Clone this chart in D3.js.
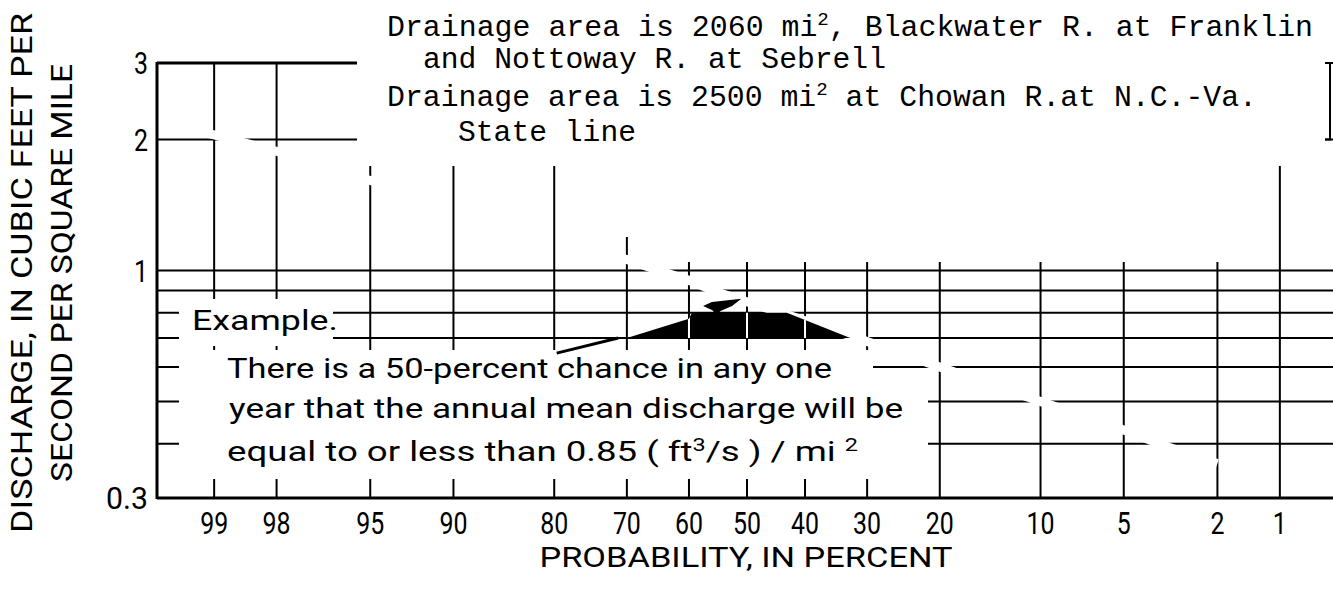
<!DOCTYPE html>
<html>
<head>
<meta charset="utf-8">
<script src="https://cdn.jsdelivr.net/npm/d3@7"></script>
<style>
  body { margin: 0; background: #fff; }
  svg { display: block; }
  .sans { font-family: Roboto, "Noto Sans", "DejaVu Sans", sans-serif; fill: #000; }
  .mono { font-family: "Liberation Mono", "DejaVu Sans Mono", monospace; fill: #000; }
</style>
</head>
<body>
<svg id="chart" width="1333" height="590"></svg>
<script>
// Probability axis (percent chance that annual mean discharge is equal to or less than)
const probTicks = [99, 98, 95, 90, 80, 70, 60, 50, 40, 30, 20, 10, 5, 2, 1];
const probTickLabels = ["99", "98", "95", "90", "80", "70", "60", "50", "40", "30", "20", "10", "5", "2", "1"];

// Discharge grid, cubic feet per second per square mile (log scale)
const dischargeGrid = [3, 2, 1, 0.9, 0.8, 0.7, 0.6, 0.5, 0.4];
const dischargeTicks = [3, 2, 1, 0.3];
const dischargeTickLabels = ["3", "2", "1", "0.3"];

// Frequency curve (erased trace through the grid); null marks an unbroken stretch
const curveProb = [99.2, 99, 98, 95, 93.5, 90, 72, 70, 65, 60, 55, 42.4, 30.2, 20, 10, 5, 3.3, 2];
const curveDischarge = [2.1, 2.05, 1.88, 1.61, 1.53, null, 1.08, 1.06, 1.0, 0.95, 0.89, 0.786, 0.689, 0.60, 0.50, 0.43, 0.393, 0.36];

// Highlighted band of the example near the median
const bandProb = [70, 60, 59.5, 43.1, 32.6];
const bandDischarge = [0.7, 0.775, 0.8, 0.8, 0.7];
const flagProb = [57.6, 56.1, 51.0, 52.6, 54.6, 55.3, 56.0];
const flagDischarge = [0.829, 0.847, 0.861, 0.829, 0.807, 0.79, 0.81];
const leaderProb = [79.7, 71.3];
const leaderDischarge = [0.646, 0.70];

// Inverse of the standard normal CDF (Acklam's rational approximation)
function probit(p) {
  const a = [-3.969683028665376e+01, 2.209460984245205e+02, -2.759285104469687e+02, 1.383577518672690e+02, -3.066479806614716e+01, 2.506628277459239e+00];
  const b = [-5.447609879822406e+01, 1.615858368580409e+02, -1.556989798598866e+02, 6.680131188771972e+01, -1.328068155288572e+01];
  const c = [-7.784894002430293e-03, -3.223964580411365e-01, -2.400758277161838e+00, -2.549732539343734e+00, 4.374664141464968e+00, 2.938163982698783e+00];
  const d = [7.784695709041462e-03, 3.224671290700398e-01, 2.445134137142996e+00, 3.754408661907416e+00];
  const pl = 0.02425, ph = 1 - pl;
  let q, r;
  if (p < pl) {
    q = Math.sqrt(-2 * Math.log(p));
    return (((((c[0]*q+c[1])*q+c[2])*q+c[3])*q+c[4])*q+c[5]) / ((((d[0]*q+d[1])*q+d[2])*q+d[3])*q+1);
  }
  if (p <= ph) {
    q = p - 0.5; r = q * q;
    return (((((a[0]*r+a[1])*r+a[2])*r+a[3])*r+a[4])*r+a[5])*q / (((((b[0]*r+b[1])*r+b[2])*r+b[3])*r+b[4])*r+1);
  }
  q = Math.sqrt(-2 * Math.log(1 - p));
  return -(((((c[0]*q+c[1])*q+c[2])*q+c[3])*q+c[4])*q+c[5]) / ((((d[0]*q+d[1])*q+d[2])*q+d[3])*q+1);
}

const svg = d3.select("#chart");
const W = 1333, H = 590;
svg.append("rect").attr("width", W).attr("height", H).attr("fill", "#fff");

// Normal-probability x scale (high percentages on the left), log y scale
const zScale = d3.scaleLinear().domain([probit(0.995), probit(0.005)]).range([157, 1337]);
const x = p => zScale(probit(p / 100));
const y = d3.scaleLog().domain([0.3, 3]).range([498, 63]);

const xLeft = x(99.5), xRight = x(0.5);
const yTop = y(3), yBottom = y(0.3);

const grid = svg.append("g").attr("stroke", "#000").attr("stroke-width", 2).attr("fill", "none");

// vertical probability lines
grid.selectAll("line.v").data(probTicks).join("line")
  .attr("class", "v")
  .attr("x1", d => x(d)).attr("x2", d => x(d))
  .attr("y1", yTop).attr("y2", yBottom);

// horizontal discharge lines
grid.selectAll("line.h").data(dischargeGrid).join("line")
  .attr("class", "h")
  .attr("x1", xLeft).attr("x2", xRight)
  .attr("y1", d => y(d)).attr("y2", d => y(d));

// white panels where the lettering sits over the grid
const panels = [
  [357, 0, 1325, 166],    // heading block
  [640, 166, 1266, 262],  // below heading, right side
  [600, 166, 640, 237],   // below heading, near 70 percent
  [179, 299, 333, 346],   // "Example." label
  [179, 350, 873, 479],   // explanation paragraph
  [873, 380, 928, 479]    // paragraph tail
];
svg.append("g").selectAll("rect").data(panels).join("rect")
  .attr("x", d => d[0]).attr("y", d => d[1])
  .attr("width", d => d[2] - d[0]).attr("height", d => d[3] - d[1])
  .attr("fill", "#fff");

// erased frequency curve: a white trace that breaks the grid lines
const curve = d3.line()
  .defined(d => d[1] !== null)
  .x(d => x(d[0])).y(d => y(d[1]));
svg.append("path")
  .datum(curveProb.map((p, i) => [p, curveDischarge[i]]))
  .attr("d", curve)
  .attr("fill", "none").attr("stroke", "#fff").attr("stroke-width", 9);

// black band with the grid showing through in white
const bandPts = bandProb.map((p, i) => [x(p), y(bandDischarge[i])]);
svg.append("defs").append("clipPath").attr("id", "bandClip")
  .append("polygon").attr("points", bandPts.map(d => d.join(",")).join(" "));
svg.append("polygon").attr("points", bandPts.map(d => d.join(",")).join(" ")).attr("fill", "#000");
const inner = svg.append("g").attr("clip-path", "url(#bandClip)").attr("stroke", "#fff").attr("stroke-width", 2);
inner.selectAll("line").data(probTicks).join("line")
  .attr("x1", d => x(d)).attr("x2", d => x(d)).attr("y1", yTop).attr("y2", yBottom);

svg.append("polygon")
  .attr("points", flagProb.map((p, i) => [x(p), y(flagDischarge[i])].join(",")).join(" "))
  .attr("fill", "#000");

svg.append("line")
  .attr("x1", x(leaderProb[0])).attr("y1", y(leaderDischarge[0]))
  .attr("x2", x(leaderProb[1])).attr("y2", y(leaderDischarge[1]))
  .attr("stroke", "#000").attr("stroke-width", 3);

// frame: left axis, bottom axis, top edge and right bracket
const frame = svg.append("g").attr("stroke", "#000").attr("stroke-width", 3).attr("fill", "none");
frame.append("line").attr("x1", xLeft).attr("x2", xLeft).attr("y1", yTop - 1).attr("y2", yBottom + 1);
frame.append("line").attr("x1", xLeft).attr("x2", W).attr("y1", yBottom).attr("y2", yBottom);
frame.append("line").attr("x1", xLeft).attr("x2", 357).attr("y1", yTop).attr("y2", yTop);
frame.append("path").attr("d", `M1325,${y(2)}H1330V${yTop}`).attr("stroke-width", 2);

// bottom tick labels
svg.append("g").selectAll("text").data(probTicks).join("text")
  .attr("class", "sans")
  .attr("x", d => x(d)).attr("y", 534)
  .attr("text-anchor", "middle")
  .attr("font-size", 31)
  .attr("textLength", (d, i) => probTickLabels[i].length * 14)
  .attr("lengthAdjust", "spacingAndGlyphs")
  .text((d, i) => probTickLabels[i]);

// left tick labels
svg.append("g").selectAll("text").data(dischargeTicks).join("text")
  .attr("class", "sans")
  .attr("x", 148).attr("y", d => y(d) + 11)
  .attr("text-anchor", "end")
  .attr("font-size", 31)
  .attr("textLength", (d, i) => dischargeTickLabels[i].length * 14)
  .attr("lengthAdjust", "spacingAndGlyphs")
  .text((d, i) => dischargeTickLabels[i]);

// axis titles
svg.append("text").attr("class", "sans")
  .attr("x", 746).attr("y", 567).attr("text-anchor", "middle")
  .attr("font-size", 27)
  .attr("textLength", 413).attr("lengthAdjust", "spacingAndGlyphs")
  .text("PROBABILITY, IN PERCENT");

const yTitle = svg.append("g").attr("transform", "translate(0,273) rotate(-90)");
yTitle.append("text").attr("class", "sans")
  .attr("x", 0).attr("y", 32).attr("text-anchor", "middle")
  .attr("font-size", 29)
  .attr("textLength", 520).attr("lengthAdjust", "spacingAndGlyphs")
  .text("DISCHARGE, IN CUBIC FEET PER");
yTitle.append("text").attr("class", "sans")
  .attr("x", 0).attr("y", 72).attr("text-anchor", "middle")
  .attr("font-size", 29)
  .attr("textLength", 418).attr("lengthAdjust", "spacingAndGlyphs")
  .text("SECOND PER SQUARE MILE");

// text line with optional superscript runs
function supLine(g, xPos, yPos, parts, len, cls, size) {
  const t = g.append("text").attr("class", cls).attr("x", xPos).attr("y", yPos).attr("font-size", size);
  if (len) t.attr("textLength", len).attr("lengthAdjust", "spacingAndGlyphs");
  const rise = size * 0.36;
  let raised = false;
  parts.forEach(p => {
    const s = t.append("tspan").text(p.t);
    if (p.sup) {
      s.attr("font-size", size * 0.64).attr("dy", -rise);
      raised = true;
    } else if (raised) {
      s.attr("dy", rise);
      raised = false;
    }
  });
  return t;
}

// heading
const head = svg.append("g");
supLine(head, 387, 36, [{t: "Drainage area is 2060 mi"}, {t: "2", sup: true}, {t: ", Blackwater R. at Franklin"}], 926, "mono", 29.6);
supLine(head, 423, 68, [{t: "and Nottoway R. at Sebrell"}], 463, "mono", 29.6);
supLine(head, 387, 106, [{t: "Drainage area is 2500 mi"}, {t: "2", sup: true}, {t: " at Chowan R.at N.C.-Va."}], 870, "mono", 29.6);
supLine(head, 458, 141, [{t: "State line"}], 178, "mono", 29.6);

// example note
const note = svg.append("g");
note.append("text").attr("class", "sans").attr("x", 192).attr("y", 330).attr("font-size", 28)
  .attr("textLength", 146).attr("lengthAdjust", "spacingAndGlyphs").text("Example.");
supLine(note, 227, 378, [{t: "There is a 50-percent chance in any one"}], 605, "sans", 28);
supLine(note, 229, 418, [{t: "year that the annual mean discharge will be"}], 674, "sans", 28);
supLine(note, 227, 461, [{t: "equal to or less than 0.85 ( ft"}, {t: "3", sup: true}, {t: "/s ) / mi "}, {t: "2", sup: true}], 631, "sans", 28);
</script>
</body>
</html>
